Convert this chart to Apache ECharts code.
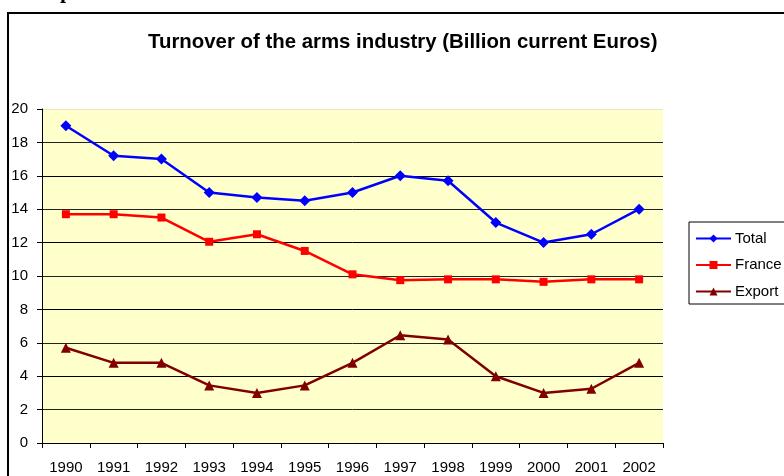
<!DOCTYPE html>
<html>
<head>
<meta charset="utf-8">
<script src="https://cdn.jsdelivr.net/npm/echarts@6/dist/echarts.min.js"></script>
<style>html,body{margin:0;padding:0;background:#fff}#c{width:784px;height:476px}</style>
</head>
<body>
<div id="c"></div>
<script>
const years = ['1990','1991','1992','1993','1994','1995','1996','1997','1998','1999','2000','2001','2002'];
const totalValues  = [19.0, 17.2, 17.0, 15.0, 14.7, 14.5, 15.0, 16.0, 15.7, 13.2, 12.0, 12.5, 14.0];
const franceValues = [13.7, 13.7, 13.5, 12.05, 12.5, 11.5, 10.1, 9.75, 9.8, 9.8, 9.65, 9.8, 9.8];
const exportValues = [5.7, 4.8, 4.8, 3.45, 3.0, 3.45, 4.8, 6.45, 6.2, 4.0, 3.0, 3.25, 4.8];
const seriesNames = ['Total', 'France', 'Export'];
const titleText = 'Turnover of the arms industry (Billion current Euros)';

const FONT = '"Liberation Sans", Arial, sans-serif';
const chart = echarts.init(document.getElementById('c'), null, {renderer: 'canvas'});
const gridColors = ['#000','#222','#000','#222','#000','#222','#000','#222','#000','#222','#e8e8c0'];

chart.setOption({
  animation: false,
  backgroundColor: '#fff',
  title: {
    text: titleText,
    left: 148, top: 32,
    padding: 0,
    textStyle: {fontFamily: FONT, fontSize: 20.4, fontWeight: 'bold', color: '#000'}
  },
  graphic: [
    {type: 'rect', silent: true, z: -1, shape: {x: 8, y: 13, width: 900, height: 600},
     style: {fill: 'none', stroke: '#000', lineWidth: 2}},
    {type: 'text', silent: true, x: 60, y: -19,
     style: {text: 'p', font: 'bold 22px "Liberation Serif", serif', fill: '#000', textBaseline: 'top'}}
  ],
  legend: {
    orient: 'vertical',
    left: 689, top: 222,
    data: seriesNames,
    itemWidth: 35, itemHeight: 10, itemGap: 11.5,
    padding: [9, 20, 5, 6],
    borderColor: '#000', borderWidth: 1,
    backgroundColor: '#fff',
    textStyle: {fontFamily: FONT, fontSize: 15, color: '#000', padding: [0,0,0,-1]}
  },
  grid: {
    left: 42, right: 121, top: 109, bottom: 33,
    show: true, backgroundColor: '#FFFFCC', borderWidth: 0
  },
  xAxis: {
    type: 'category', data: years, boundaryGap: true,
    axisLine: {lineStyle: {color: '#000', width: 1}},
    axisTick: {show: true, length: 5, alignWithLabel: false, lineStyle: {color: '#000'}},
    axisLabel: {fontFamily: FONT, fontSize: 15, color: '#000', margin: 17, interval: 0},
    splitLine: {show: false}
  },
  yAxis: {
    type: 'value', min: 0, max: 20, interval: 2,
    axisLine: {show: true, lineStyle: {color: '#000', width: 1}},
    axisTick: {show: true, length: 5, lineStyle: {color: '#000'}},
    axisLabel: {fontFamily: FONT, fontSize: 15, color: '#000', margin: 14},
    splitLine: {show: true, lineStyle: {color: gridColors, width: 1}}
  },
  series: [
    {name: seriesNames[0], type: 'line', data: totalValues, symbol: 'diamond', symbolSize: 11,
     lineStyle: {color: '#0000FF', width: 2.5}, itemStyle: {color: '#0000FF'}},
    {name: seriesNames[1], type: 'line', data: franceValues, symbol: 'rect', symbolSize: 8,
     lineStyle: {color: '#FF0000', width: 2.5}, itemStyle: {color: '#FF0000'}},
    {name: seriesNames[2], type: 'line', data: exportValues, symbol: 'triangle', symbolSize: 10,
     lineStyle: {color: '#800000', width: 2.5}, itemStyle: {color: '#800000'}}
  ]
});
</script>
</body>
</html>
